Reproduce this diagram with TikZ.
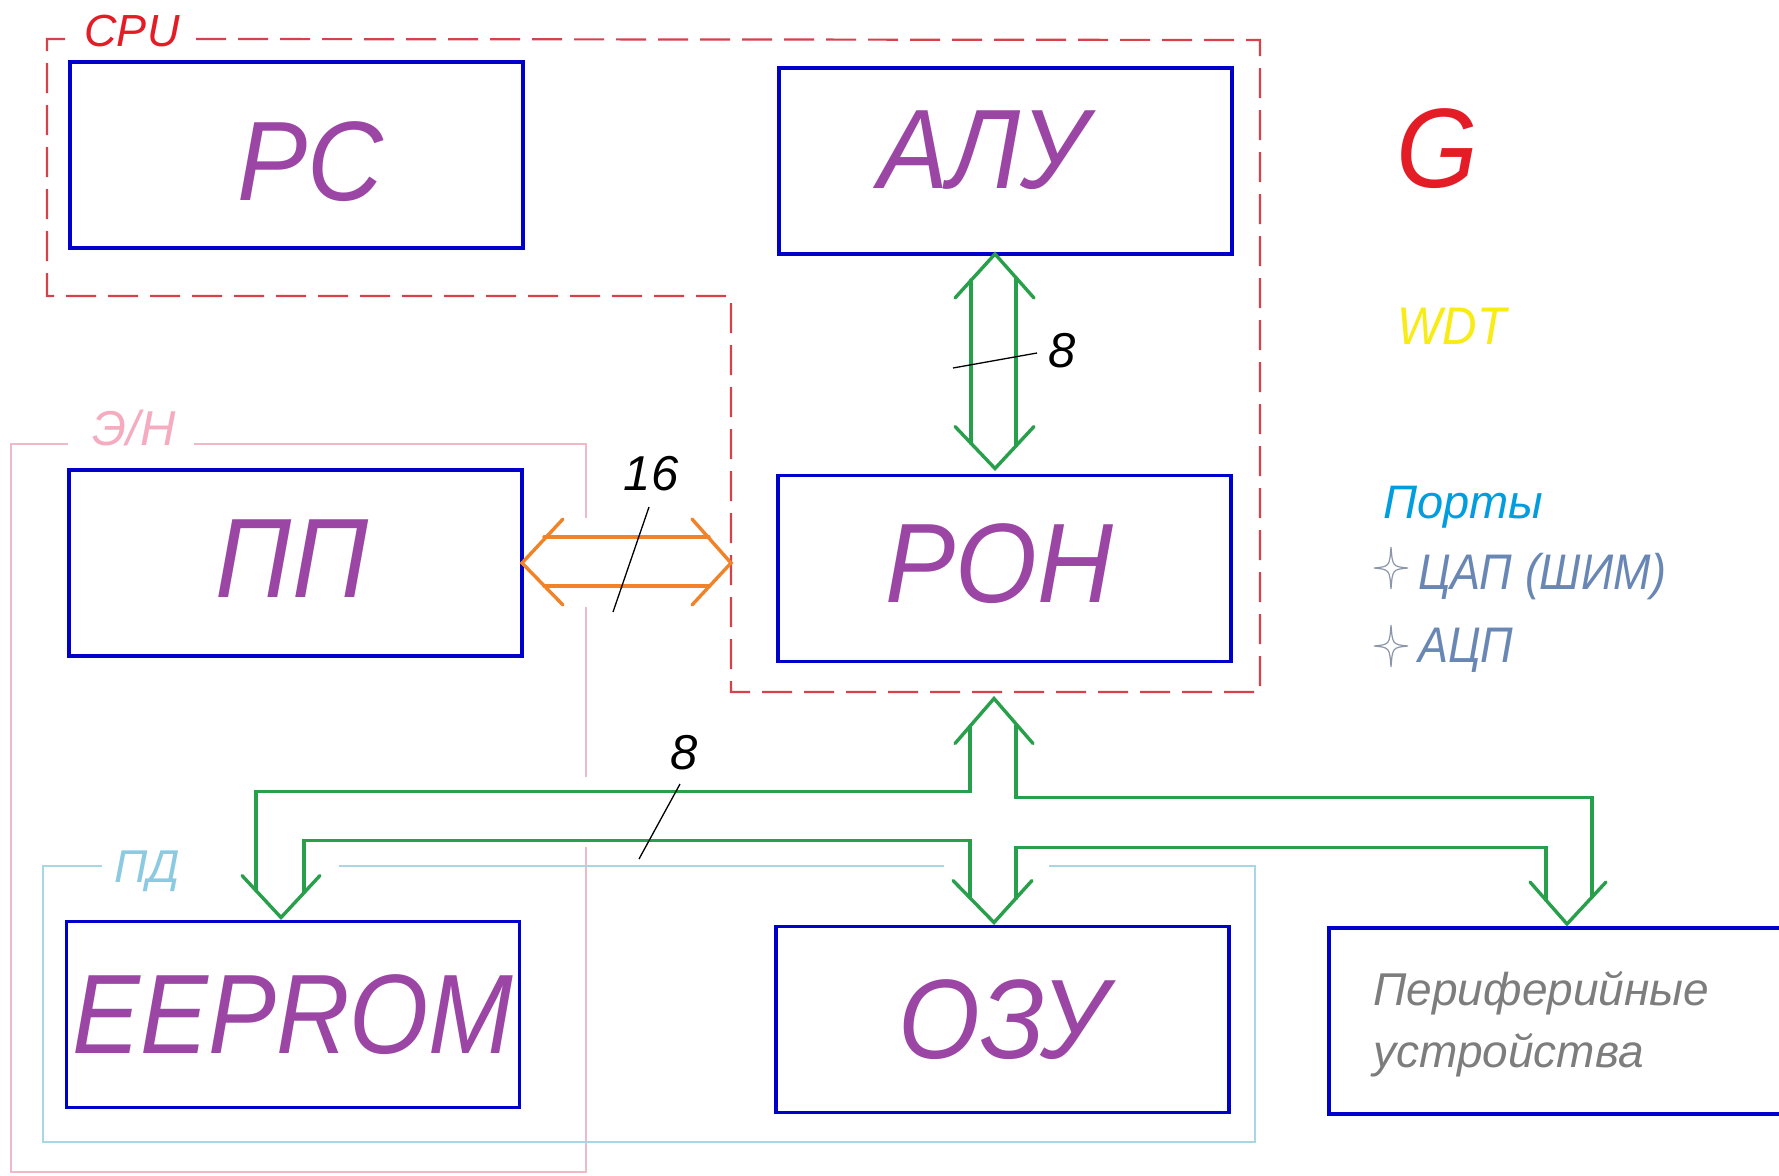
\documentclass[tikz,border=0pt]{standalone}
\usepackage{fontspec}
\setmainfont{Liberation Sans}
\newfontfamily\condsans[FakeStretch=0.93]{Liberation Sans}
\newfontfamily\condsansb[FakeStretch=0.9]{Liberation Sans}
\usetikzlibrary{calc}

\definecolor{boxblue}{RGB}{0,0,205}
\definecolor{labviolet}{RGB}{155,70,165}
\definecolor{busgreen}{RGB}{40,160,75}
\definecolor{busorange}{RGB}{240,130,40}
\definecolor{cpured}{RGB}{215,65,75}
\definecolor{cpulabel}{RGB}{228,28,38}
\definecolor{nvpink}{RGB}{240,185,200}
\definecolor{nvlabel}{RGB}{245,172,192}
\definecolor{dmblue}{RGB}{168,214,226}
\definecolor{dmlabel}{RGB}{140,202,225}
\definecolor{wdtyellow}{RGB}{248,236,20}
\definecolor{portblue}{RGB}{0,158,222}
\definecolor{convblue}{RGB}{105,135,180}
\definecolor{stargray}{RGB}{140,150,170}
\definecolor{pergray}{RGB}{125,125,125}

\tikzset{
  block/.style={draw=boxblue, line width=3.6pt, minimum width=453pt,
    minimum height=186pt, inner sep=0pt, outer sep=0pt},
  blocklabel/.style={text=labviolet, font=\condsans\itshape\fontsize{113}{113}\selectfont,
    inner sep=0pt, anchor=base},
  bus/.style={draw=busgreen, line width=3.4pt, line cap=round},
  obus/.style={draw=busorange, line width=3.4pt, line cap=round},
  tickline/.style={draw=black, line width=1.3pt},
  buswidth/.style={font=\itshape\fontsize{49}{49}\selectfont, inner sep=0pt, anchor=base},
  cpuframe/.style={draw=cpured, line width=2.2pt, dash pattern=on 30pt off 12pt},
  nvframe/.style={draw=nvpink, line width=1.8pt},
  dmframe/.style={draw=dmblue, line width=1.8pt},
  framelabel/.style={font=\itshape\fontsize{46}{46}\selectfont, inner sep=0pt, anchor=base},
  sidelabel/.style={inner sep=0pt, anchor=base west},
  starmark/.style={draw=stargray, line width=1.2pt}
}

\begin{document}
\begin{tikzpicture}[x=1pt, y=-1pt]
\useasboundingbox (0,0) rectangle (1779,1175);
\fill[white] (0,0) rectangle (1779,1175);

% group frames
\draw[nvframe] (586,518) -- (586,444) -- (194,444);
\draw[nvframe] (68,444) -- (11,444) -- (11,1172) -- (586,1172) -- (586,847);
\draw[nvframe] (586,777) -- (586,607);
\node[framelabel, text=nvlabel, font=\itshape\fontsize{49}{49}\selectfont] (nvT) at (134,445) {Э/Н};

\draw[dmframe] (102,866) -- (43,866) -- (43,1142) -- (1255,1142) -- (1255,866) -- (1049,866);
\draw[dmframe] (944,866) -- (339,866);
\node[framelabel, text=dmlabel] (dmT) at (147,882) {ПД};

\draw[cpuframe] (65,39) -- (47,39) -- (47,296) -- (731,296) -- (731,692)
  -- (1260,692) -- (1260,40) -- (195,39);
\node[framelabel, text=cpulabel, font=\itshape\fontsize{45}{45}\selectfont] (cpuT) at (132,46) {CPU};

% blocks
\node[block] (pc) at (296.5,155) {};
\node[block] (alu) at (1005.5,161) {};
\node[block] (ron) at (1004.5,568.5) {};
\node[block] (pp) at (295.5,563) {};
\node[block] (eeprom) at (293,1014.5) {};
\node[block] (ozu) at (1002.5,1019.5) {};
\node[block] (per) at (1555.5,1021) {};

\node[blocklabel] (pcT) at (310,200) {PC};
\node[blocklabel] (aluT) at (983,188) {АЛУ};
\node[blocklabel] (ronT) at (999,602) {РОН};
\node[blocklabel] (ppT) at (292,597) {ПП};
\node[blocklabel, font=\condsansb\itshape\fontsize{113}{113}\selectfont] (eepromT) at (293,1053) {EEPROM};
\node[blocklabel] (ozuT) at (1003,1058) {ОЗУ};

\node[sidelabel, text=pergray, font=\itshape\fontsize{46}{46}\selectfont] (per1) at (1373,1005) {Периферийные};
\node[sidelabel, text=pergray, font=\itshape\fontsize{46}{46}\selectfont] (per2) at (1373,1067) {устройства};

% right-hand column
\node[blocklabel, text=cpulabel] (gT) at (1437,187) {G};
\node[inner sep=0pt, anchor=base, text=wdtyellow, font=\condsansb\itshape\fontsize{53}{53}\selectfont] (wdtT) at (1452,344) {WDT};
\node[sidelabel, text=portblue, font=\itshape\fontsize{47}{47}\selectfont] (portT) at (1383,518) {Порты};
\node[sidelabel, text=convblue, font=\condsansb\itshape\fontsize{50}{50}\selectfont] (dacT) at (1418,589) {ЦАП (ШИМ)};
\node[sidelabel, text=convblue, font=\condsansb\itshape\fontsize{50}{50}\selectfont] (adcT) at (1418,662) {АЦП};
\foreach \sy in {568,646} {
  \draw[starmark] (1391,\sy-21) .. controls (1392.5,\sy-1.5) .. (1408,\sy)
    .. controls (1392.5,\sy+1.5) .. (1391,\sy+21)
    .. controls (1389.5,\sy+1.5) .. (1374,\sy)
    .. controls (1389.5,\sy-1.5) .. cycle;
}

% ALU <-> RON bus, 8 bits
\coordinate (aluTip) at ($(alu.south)+(-10.5,0)$);
\coordinate (ronTip) at ($(ron.north)+(-9.5,-7)$);
\draw[bus] ($(aluTip)+(-40,44)$) -- (aluTip) -- ($(aluTip)+(39,44)$);
\draw[bus] ($(ronTip)+(-40,-42)$) -- (ronTip) -- ($(ronTip)+(39,-42)$);
\draw[bus] ($(aluTip)+(-24,26)$) -- ($(ronTip)+(-24,-25)$);
\draw[bus] ($(aluTip)+(21,24)$) -- ($(ronTip)+(21,-23)$);
\node[buswidth] (w8a) at (1062,367) {8};
\draw[tickline] (953,368) -- (1037,353);

% PP <-> CPU bus, 16 bits
\coordinate (ppTip) at (pp.east);
\coordinate (cpuTip) at (731,563);
\draw[obus] ($(ppTip)+(41,-44)$) -- (ppTip) -- ($(ppTip)+(41,42)$);
\draw[obus] ($(cpuTip)+(-39,-44)$) -- (cpuTip) -- ($(cpuTip)+(-39,42)$);
\draw[obus] ($(ppTip)+(22,-26)$) -- ($(cpuTip)+(-22,-26)$);
\draw[obus] ($(ppTip)+(22,23)$) -- ($(cpuTip)+(-22,23)$);
\node[buswidth] (w16) at (651,490) {16};
\draw[tickline] (649,507) -- (613,612);

% data bus from RON to EEPROM, OZU and peripherals
\coordinate (upTip) at ($(ron.south)+(-10.5,37)$);
\coordinate (eTip) at ($(eeprom.north)+(-12,-4)$);
\coordinate (oTip) at ($(ozu.north)+(-8.5,-4)$);
\coordinate (pTip) at ($(per.north)+(11.5,-4)$);

\draw[bus] ($(upTip)+(-39,45)$) -- (upTip) -- ($(upTip)+(39,45)$);
\draw[bus] ($(eTip)+(-39,-42)$) -- (eTip) -- ($(eTip)+(39,-42)$);
\draw[bus] ($(oTip)+(-41,-42)$) -- (oTip) -- ($(oTip)+(38,-42)$);
\draw[bus] ($(pTip)+(-37,-42)$) -- (pTip) -- ($(pTip)+(39,-42)$);

\draw[bus] ($(upTip)+(-24,28)$) -- ++(0,65) -| ($(eTip)+(-25,-27)$);
\draw[bus] ($(upTip)+(22,27)$) -- ++(0,72) -| ($(pTip)+(25,-27)$);
\draw[bus] ($(eTip)+(23,-25)$) -- ++(0,-52) -| ($(oTip)+(-24,-25)$);
\draw[bus] ($(oTip)+(22,-24)$) -- ++(0,-51) -| ($(pTip)+(-21,-24)$);

\node[buswidth] (w8b) at (684,769) {8};
\draw[tickline] (680,784) -- (639,859);
\end{tikzpicture}
\end{document}
